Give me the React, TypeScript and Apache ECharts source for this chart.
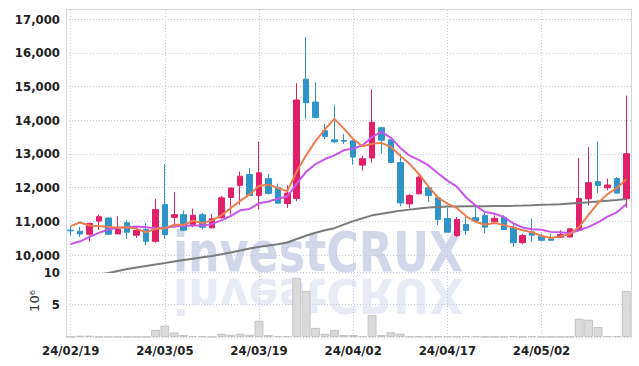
import React, { useEffect, useRef } from "react";
import * as echarts from "echarts";

const dates = [
  "24/02/19", "24/02/20", "24/02/21", "24/02/22", "24/02/23", "24/02/26", "24/02/27", "24/02/28", "24/02/29", "24/03/04",
  "24/03/05", "24/03/06", "24/03/07", "24/03/08", "24/03/11", "24/03/12", "24/03/13", "24/03/14", "24/03/15", "24/03/18",
  "24/03/19", "24/03/20", "24/03/21", "24/03/22", "24/03/25", "24/03/26", "24/03/27", "24/03/28", "24/03/29", "24/04/01",
  "24/04/02", "24/04/03", "24/04/04", "24/04/05", "24/04/08", "24/04/09", "24/04/11", "24/04/12", "24/04/15", "24/04/16",
  "24/04/17", "24/04/18", "24/04/19", "24/04/22", "24/04/23", "24/04/24", "24/04/25", "24/04/26", "24/04/29", "24/04/30",
  "24/05/02", "24/05/03", "24/05/07", "24/05/08", "24/05/09", "24/05/10", "24/05/13", "24/05/14", "24/05/16", "24/05/17",
];

const opens = [
  10740, 10710, 10620, 11010, 11100, 10630, 10960, 10590, 10760, 10410,
  11500, 11120, 11200, 10910, 11200, 10810, 11110, 11710, 12070, 12390,
  11770, 12270, 12010, 11530, 11680, 15220, 14540, 13690, 13420, 13400,
  13390, 12670, 12880, 13780, 13420, 12750, 11520, 11820, 12000, 11700,
  11090, 10580, 10910, 11110, 11180, 10990, 11120, 10830, 10370, 10690,
  10560, 10480, 10530, 10540, 10730, 11670, 12180, 12000, 12270, 11670,
];
const closes = [
  10720, 10630, 10940, 11140, 10620, 10760, 10680, 10730, 10410, 11350,
  10610, 11200, 10740, 11180, 10830, 11080, 11700, 11990, 12340, 11770,
  12440, 11830, 11540, 11840, 14600, 14520, 14080, 13520, 13360, 13380,
  12910, 12860, 13940, 13410, 12750, 11550, 11770, 12310, 11770, 11060,
  10680, 11060, 10730, 11010, 10830, 11090, 10760, 10370, 10580, 10590,
  10440, 10440, 10610, 10780, 11680, 12150, 12070, 12080, 11840, 13010,
];
const lows = [
  10570, 10540, 10400, 10750, 10600, 10620, 10480, 10510, 10290, 10370,
  10490, 10810, 10720, 10830, 10760, 10790, 11080, 11200, 11500, 11760,
  11350, 11800, 11530, 11400, 11600, 14030, 14070, 13440, 13320, 13300,
  12680, 12510, 12740, 13010, 12740, 11450, 11380, 11800, 11580, 10890,
  10670, 10540, 10600, 10990, 10650, 10910, 10750, 10240, 10320, 10400,
  10440, 10440, 10510, 10530, 10720, 11470, 11840, 11920, 11840, 11410,
];
const highs = [
  10870, 10840, 10960, 11200, 11120, 11150, 11030, 10850, 10960, 11670,
  12700, 11870, 11320, 11380, 11250, 11220, 11760, 12000, 12480, 12580,
  13370, 12410, 12120, 12070, 15100, 16460, 15130, 13890, 14460, 13590,
  13400, 12950, 14920, 13800, 13430, 13010, 11820, 12360, 12040, 11710,
  11400, 11130, 11150, 11470, 11250, 11180, 11180, 10910, 10630, 11080,
  10630, 10630, 10740, 10800, 12880, 13200, 13370, 12270, 12320, 14730,
];

const ma5 = [
  10860, 10970, 10880, 10860, 10840, 10810, 10830, 10780, 10680, 10780,
  10800, 10900, 10900, 11020, 10950, 11030, 11180, 11400, 11610, 11800,
  12060, 12090, 11990, 11900, 12480, 12960, 13380, 13730, 14040, 13760,
  13440, 13230, 13300, 13330, 13210, 12950, 12700, 12400, 12030, 11710,
  11530, 11400, 11150, 10990, 10900, 10960, 10890, 10820, 10740, 10680,
  10570, 10510, 10560, 10620, 10840, 11200, 11540, 11810, 11990, 12250,
];
const ma10 = [
  10330, 10410, 10540, 10660, 10760, 10810, 10830, 10850, 10830, 10800,
  10810, 10850, 10870, 10880, 10880, 10920, 11030, 11160, 11330, 11370,
  11540, 11590, 11670, 11740, 12120, 12470, 12700, 12850, 12960, 13110,
  13160, 13260, 13500, 13660, 13480, 13180, 12950, 12820, 12660, 12430,
  12210, 12030, 11710, 11470, 11280, 11230, 11130, 10940, 10820, 10770,
  10750, 10690, 10680, 10650, 10740, 10840, 10970, 11140, 11270, 11510,
];
const ma60 = [
  9300, 9340, 9380, 9420, 9470, 9530, 9590, 9635, 9680, 9725,
  9765, 9810, 9855, 9895, 9935, 9975, 10025, 10080, 10140, 10200,
  10245, 10285, 10325, 10375, 10480, 10575, 10665, 10740, 10800, 10905,
  11010, 11095, 11180, 11230, 11275, 11320, 11350, 11385, 11415, 11430,
  11440, 11445, 11448, 11450, 11452, 11455, 11458, 11462, 11470, 11480,
  11493, 11500, 11510, 11530, 11550, 11570, 11593, 11616, 11637, 11667,
];
const volume = [
  0.05, 0.2, 0.2, 0.05, 0.05, 0.05, 0.05, 0.05, 0.05, 1.1,
  1.75, 0.7, 0.3, 0.15, 0.12, 0.05, 0.5, 0.35, 0.5, 0.35,
  2.5, 0.3, 0.15, 0.15, 9.1, 7.1, 1.4, 0.5, 1.1, 0.3,
  0.3, 0.15, 3.4, 0.3, 0.75, 0.5, 0.1, 0.1, 0.1, 0.12,
  0.12, 0.08, 0.15, 0.15, 0.05, 0.05, 0.05, 0.15, 0.05, 0.15,
  0.05, 0.05, 0.05, 0.05, 2.8, 2.65, 1.55, 0.15, 0.15, 7.1,
];

const priceMin = 9500;
const priceMax = 17300;
const volMax = 10;

const NARROW = "'Liberation Sans Narrow', 'DejaVu Sans Condensed', sans-serif";
const GRID_LINE = "#c6c9dd";
const FRAME = "#d6d6d6";

export default function App() {
  const ref = useRef<HTMLDivElement>(null);
  useEffect(() => {
    if (!ref.current) return;
    const chart = echarts.init(ref.current, null, { renderer: "svg" });
    const candles = dates.map((_, i) => [opens[i], closes[i], lows[i], highs[i]]);
    const gridDates = dates.filter((_, i) => i % 10 === 0);
    const vLines = (z: number) => ({
      silent: true,
      symbol: ["none", "none"],
      label: { show: false },
      z,
      lineStyle: { type: [1, 2], color: GRID_LINE, width: 1 },
      data: gridDates.map((d) => ({ xAxis: d })),
    });
    const labelStyle = {
      color: "#222",
      fontFamily: NARROW,
      fontWeight: "bold" as const,
      fontSize: 13,
    };
    chart.setOption({
      animation: false,
      grid: [
        { left: 66, right: 8, top: 9, height: 263 },
        { left: 66, right: 8, top: 272, height: 65 },
      ],
      xAxis: [
        {
          type: "category", gridIndex: 0, data: dates, position: "top",
          axisLine: { show: true, lineStyle: { color: FRAME } },
          axisTick: { show: false }, axisLabel: { show: false }, splitLine: { show: false },
        },
        {
          type: "category", gridIndex: 1, data: dates,
          axisLine: { show: false }, axisTick: { show: false },
          axisLabel: { ...labelStyle, interval: 9, margin: 7 },
          splitLine: { show: false },
        },
      ],
      yAxis: [
        {
          type: "value", gridIndex: 0, min: priceMin, max: priceMax, splitNumber: 8, scale: true,
          axisLine: { show: true, lineStyle: { color: FRAME } }, axisTick: { show: false },
          axisLabel: {
            ...labelStyle, margin: 6, showMinLabel: false, showMaxLabel: false,
            formatter: (v: number) => v.toLocaleString("en-US"),
          },
          splitLine: { show: true, lineStyle: { type: [1, 2], color: GRID_LINE } },
        },
        {
          type: "value", gridIndex: 0, position: "right", min: priceMin, max: priceMax,
          axisLine: { show: true, lineStyle: { color: FRAME } }, axisTick: { show: false },
          axisLabel: { show: false }, splitLine: { show: false },
        },
        {
          type: "value", gridIndex: 1, min: 0, max: volMax, interval: 5,
          axisLine: { show: true, lineStyle: { color: FRAME } }, axisTick: { show: false },
          axisLabel: { ...labelStyle, margin: 6, showMinLabel: false },
          splitLine: { show: true, lineStyle: { type: [1, 2], color: GRID_LINE } },
        },
        {
          type: "value", gridIndex: 1, position: "right", min: 0, max: volMax,
          axisLine: { show: true, lineStyle: { color: FRAME } }, axisTick: { show: false },
          axisLabel: { show: false }, splitLine: { show: false },
        },
      ],
      graphic: [
        {
          type: "text", x: 318, y: 279, scaleX: 0.88, z: 0, silent: true,
          style: {
            text: "investCRUX", font: "bold 56px " + NARROW, fill: "#d2d7ea",
            align: "center", verticalAlign: "bottom",
          },
        },
        {
          type: "text", x: 318, y: 272, scaleX: 0.88, scaleY: -0.85, z: 0, silent: true,
          style: {
            text: "investCRUX", font: "bold 56px " + NARROW, fill: "#d2d7ea",
            align: "center", verticalAlign: "bottom", opacity: 0.5,
          },
        },
        {
          type: "text", x: 34, y: 301, rotation: Math.PI / 2, silent: true,
          style: {
            text: "10⁶", font: "13px 'DejaVu Sans', sans-serif", fill: "#333",
            align: "center", verticalAlign: "middle",
          },
        },
      ],
      series: [
        {
          type: "candlestick", xAxisIndex: 0, yAxisIndex: 0, data: candles, barWidth: 6,
          itemStyle: {
            color: "#e2206a", color0: "#2f95c9", borderColor: "#e2206a", borderColor0: "#2f95c9", borderWidth: 1,
          },
          markLine: vLines(1),
        },
        { type: "line", xAxisIndex: 0, yAxisIndex: 0, data: ma60, symbol: "none", lineStyle: { color: "#7b7b7b", width: 2 } },
        { type: "line", xAxisIndex: 0, yAxisIndex: 0, data: ma10, symbol: "none", lineStyle: { color: "#c955ec", width: 2 } },
        { type: "line", xAxisIndex: 0, yAxisIndex: 0, data: ma5, symbol: "none", lineStyle: { color: "#ee7e4e", width: 2 } },
        {
          type: "bar", xAxisIndex: 1, yAxisIndex: 2, data: volume, barCategoryGap: "6%",
          itemStyle: { color: "#dadada", borderColor: "#c4c4c4", borderWidth: 1 },
          markLine: vLines(1),
        },
      ],
    });
    return () => chart.dispose();
  }, []);
  return <div ref={ref} style={{ width: 639, height: 366, position: "absolute", left: 0, top: 0 }} />;
}
